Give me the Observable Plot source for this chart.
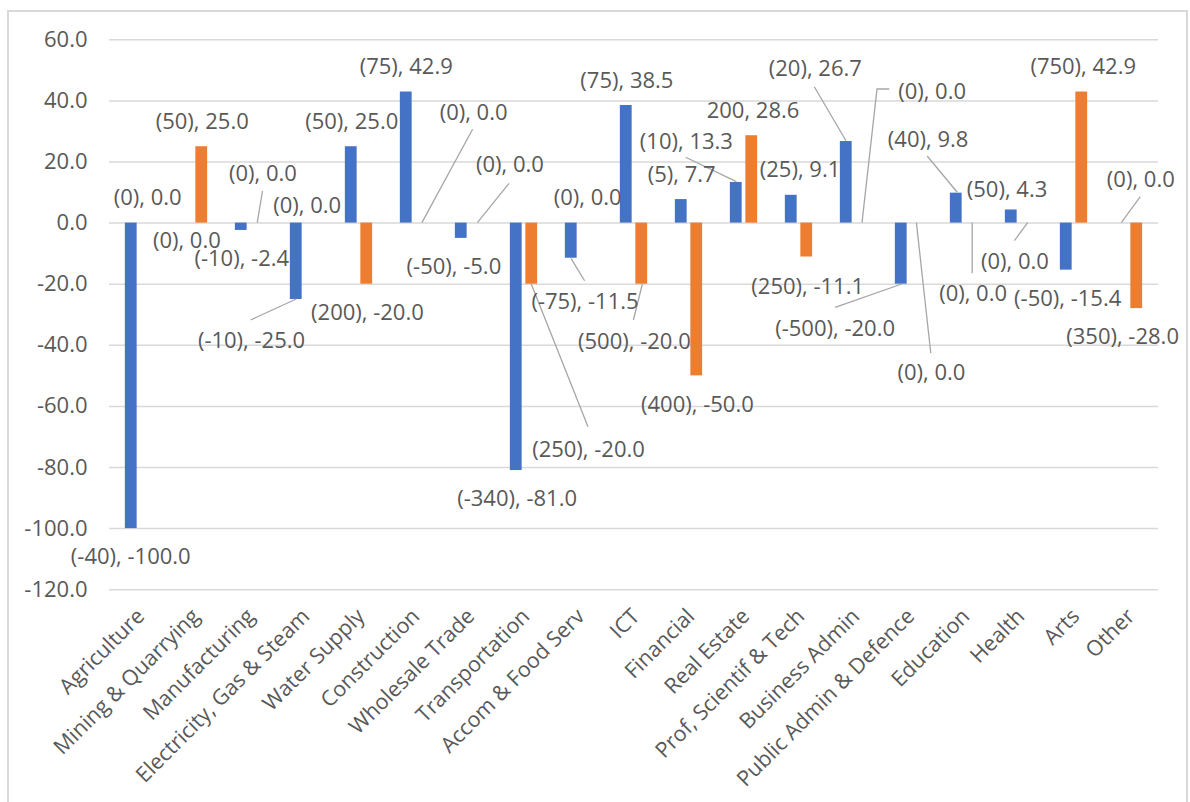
<!DOCTYPE html>
<html>
<head>
<meta charset="utf-8">
<script src="https://cdn.jsdelivr.net/npm/d3@7"></script>
<script src="https://cdn.jsdelivr.net/npm/@observablehq/plot@0.6"></script>
<style>
  html, body { margin: 0; padding: 0; background: #ffffff; }
  #frame { position: absolute; left: 7px; top: 10px; width: 1177px; height: 800px; border: 2px solid #d9d9d9; }
  #chart { position: absolute; left: 0; top: 0; }
</style>
</head>
<body>
<div id="frame"></div>
<div id="chart"></div>
<script>
// Industries along the horizontal axis
const categories = [
  "Agriculture", "Mining & Quarrying", "Manufacturing", "Electricity, Gas & Steam",
  "Water Supply", "Construction", "Wholesale Trade", "Transportation",
  "Accom & Food Serv", "ICT", "Financial", "Real Estate", "Prof, Scientif & Tech",
  "Business Admin", "Public Admin & Defence", "Education", "Health", "Arts", "Other"
];

// First series: percentage change and the count shown in its label
const blueValues = [-100.0, 0.0, -2.4, -25.0, 25.0, 42.9, -5.0, -81.0, -11.5, 38.5,
  7.7, 13.3, 9.1, 26.7, -20.0, 9.8, 4.3, -15.4, 0.0];
const blueCounts = ["(-40)", "(0)", "(-10)", "(-10)", "(50)", "(75)", "(-50)", "(-340)",
  "(-75)", "(75)", "(5)", "(10)", "(25)", "(20)", "(-500)", "(40)", "(50)", "(-50)", "(0)"];

// Second series
const orangeValues = [0.0, 25.0, 0.0, 0.0, -20.0, 0.0, 0.0, -20.0, 0.0, -20.0,
  -50.0, 28.6, -11.1, 0.0, 0.0, 0.0, 0.0, 42.9, -28.0];
const orangeCounts = ["(0)", "(50)", "(0)", "(0)", "(200)", "(0)", "(0)", "(250)",
  "(0)", "(500)", "(400)", "200", "(250)", "(0)", "(0)", "(0)", "(0)", "(750)", "(350)"];

// Value axis ticks
const yTicks = [60, 40, 20, 0, -20, -40, -60, -80, -100, -120];

// Label placement (pixel nudges from each bar end) and leader-line vertices
const blueLabelNudge = [
  [-0.5, 28.6], [0.6, 17.4], [0.5, 28.4], [-44.75, 41], [0.5, -24.5], [0, -25.5],
  [-7.35, 28.1], [0.85, 28.2], [13.75, 44], [0.65, -25], [0.45, -24.8], [-49.85, -41],
  [8.75, -25], [-30.95, -72.7], [-66.15, 44.6], [-28.15, -53.7], [-4.25, -20.5],
  [1.45, 28.7], [19.55, -43.6]
];
const blueLeaders = [
  null, null, null, [[0.5, 0], [-45.2, 21]], null, null, null, null,
  [[0.25, 0.6], [13.85, 23]], null, null, [[0.6, -0.3], [-50.05, -24.7]], null,
  [[0.25, -0.3], [-31.45, -54.3]], [[1, 0.3], [-65.65, 23.6]],
  [[1.45, -0.4], [-28.55, -36.7]], null, null, [[0.55, 0], [19.55, -25.9]]
];
const orangeLabelNudge = [
  [1, -25.3], [0.5, -24.5], [6.25, -49.3], [-4.6, -17.6], [0.7, 28.6], [51.85, -110.3],
  [33.15, -58.3], [56.75, 165.3], [1, -25.3], [-7.35, 58], [0.65, 29.5], [1.25, -24.5],
  [0.95, 29.5], [70.35, -130.9], [14.65, 150], [1.35, 70.7], [-11.75, 38.4],
  [1.45, -24.8], [-14.15, 27.9]
];
const orangeLeaders = [
  null, null, [[1, 0], [6.25, -31.6]], null, null, [[0.65, 0], [51.35, -93.3]],
  [[1.15, 0], [32.75, -39.3]], [[0, 0.3], [56.75, 143]], null, [[1.15, 0.3], [-7.85, 36.3]],
  null, null, null, [[0.75, 0], [15.75, -133.6], [28.05, -133.6]],
  [[0.15, 0], [14.55, 130.7]], [[0.95, 0], [0.95, 50.7]], [[1.45, 0], [-11.85, 18]],
  null, null
];

const series = [
  {values: blueValues, counts: blueCounts, fill: "#4472C4", shift: -7.75, nudge: blueLabelNudge, leaders: blueLeaders},
  {values: orangeValues, counts: orangeCounts, fill: "#ED7D31", shift: 7.75, nudge: orangeLabelNudge, leaders: orangeLeaders}
];

const textColor = "#595959";
const font = "'Open Sans', sans-serif";
const barInset = 21.6;

const barMarks = series.map(s =>
  Plot.barY(categories.map((c, i) => ({category: c, value: s.values[i]})), {
    x: "category", y: "value", fill: s.fill, dx: s.shift,
    insetLeft: barInset, insetRight: barInset
  })
);

const labelMarks = series.flatMap(s =>
  categories.map((c, i) =>
    Plot.text([{category: c, value: s.values[i]}], {
      x: "category", y: "value",
      text: d => `${s.counts[i]}, ${d.value.toFixed(1)}`,
      dx: s.shift + s.nudge[i][0], dy: s.nudge[i][1],
      fill: textColor, fontSize: 22, fontFamily: font
    })
  )
);

// Leader lines joining moved labels to their bars
function leaderLines(index, scales) {
  const x = scales.x, y = scales.y;
  const half = x.bandwidth ? x.bandwidth() / 2 : 0;
  const g = d3.create("svg:g")
    .attr("fill", "none").attr("stroke", "#a6a6a6").attr("stroke-width", 1.3);
  for (const s of series) {
    categories.forEach((c, i) => {
      const pts = s.leaders[i];
      if (!pts) return;
      const x0 = x(c) + half + s.shift, y0 = y(s.values[i]);
      g.append("polyline").attr("points", pts.map(([a, b]) => `${x0 + a},${y0 + b}`).join(" "));
    });
  }
  return g.node();
}

const chart = Plot.plot({
  width: 1190,
  height: 802,
  marginLeft: 109,
  marginRight: 32,
  marginTop: 39.3,
  marginBottom: 212.8,
  style: {fontFamily: font, fontSize: "22px", color: textColor, background: "transparent", overflow: "visible"},
  x: {domain: categories, padding: 0, axis: null},
  y: {domain: [-120, 60], axis: null},
  marks: [
    Plot.ruleY(yTicks, {stroke: "#d9d9d9", strokeWidth: 1.5}),
    Plot.text(yTicks, {
      y: d => d, frameAnchor: "left", dx: -22, textAnchor: "end",
      text: d => d.toFixed(1), fill: textColor, fontSize: 22, fontFamily: font
    }),
    Plot.text(categories, {
      x: d => d, frameAnchor: "bottom", dx: 2, dy: 23, rotate: -45,
      textAnchor: "end", lineAnchor: "middle",
      fill: textColor, fontSize: 21.5, fontFamily: font
    }),
    ...barMarks,
    leaderLines,
    ...labelMarks
  ]
});

document.getElementById("chart").appendChild(chart);
</script>
</body>
</html>
